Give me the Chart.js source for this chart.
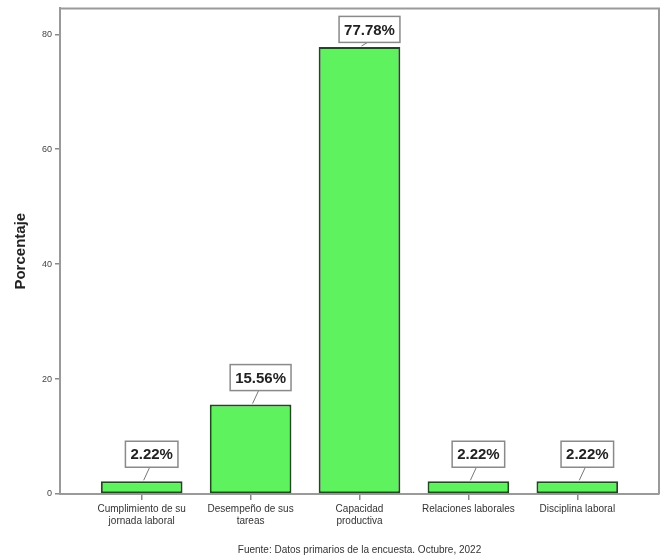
<!DOCTYPE html>
<html>
<head>
<meta charset="utf-8">
<script src="https://cdn.jsdelivr.net/npm/chart.js@4"></script>
<style>
html,body{margin:0;padding:0;background:#fff;}
#wrap{width:666px;height:560px;}
</style>
</head>
<body>
<div id="wrap"><canvas id="c" width="666" height="560"></canvas></div>
<script>
const categories = [
  ["Cumplimiento de su", "jornada laboral"],
  ["Desempeño de sus", "tareas"],
  ["Capacidad", "productiva"],
  ["Relaciones laborales"],
  ["Disciplina laboral"]
];
const percentages = [2.22, 15.56, 77.78, 2.22, 2.22];
const percentLabels = ["2.22%", "15.56%", "77.78%", "2.22%", "2.22%"];
const yTicks = [0, 20, 40, 60, 80];
const yTitle = "Porcentaje";
const sourceNote = "Fuente: Datos primarios de la encuesta. Octubre, 2022";

const points = percentages.map((v, i) => ({ x: i, y: v }));

const framePlugin = {
  id: 'frame',
  beforeDatasetsDraw(chart) {
    const { ctx, chartArea: a } = chart;
    ctx.save();
    ctx.strokeStyle = '#9a9a9a';
    ctx.lineWidth = 2;
    ctx.beginPath();
    ctx.moveTo(a.left, a.top);
    ctx.lineTo(a.right, a.top);
    ctx.lineTo(a.right, a.bottom);
    ctx.stroke();
    ctx.restore();
  }
};

const labelPlugin = {
  id: 'boxLabels',
  afterDatasetsDraw(chart) {
    const { ctx, chartArea: a } = chart;
    const meta = chart.getDatasetMeta(0);
    ctx.save();
    ctx.font = 'bold 15px "Liberation Sans", Arial, sans-serif';
    ctx.textAlign = 'center';
    ctx.textBaseline = 'middle';
    meta.data.forEach((bar, i) => {
      const txt = percentLabels[i];
      const w = ctx.measureText(txt).width + 10;
      const h = 26;
      const gap = Math.min(14, bar.y - a.top - 8 - h);
      const cx = bar.x + 10;
      const bottom = bar.y - gap;
      const top = bottom - h;
      ctx.strokeStyle = '#777';
      ctx.lineWidth = 1;
      ctx.beginPath();
      ctx.moveTo(cx - 2, bottom);
      ctx.lineTo(bar.x + 2, bar.y - 1);
      ctx.stroke();
      ctx.fillStyle = '#ffffff';
      ctx.fillRect(cx - w / 2, top, w, h);
      ctx.strokeStyle = '#8a8a8a';
      ctx.lineWidth = 1.5;
      ctx.strokeRect(cx - w / 2, top, w, h);
      ctx.fillStyle = '#222';
      ctx.fillText(txt, cx, top + h / 2 + 1);
    });
    ctx.restore();
  }
};

new Chart(document.getElementById('c'), {
  type: 'bar',
  data: {
    datasets: [{
      data: points,
      backgroundColor: '#5ef35e',
      borderColor: '#1f4a1f',
      borderWidth: 2,
      borderSkipped: false,
      barPercentage: 0.75,
      categoryPercentage: 1.0
    }]
  },
  options: {
    responsive: false,
    animation: false,
    devicePixelRatio: 1,
    layout: { padding: { top: 8, right: 7, left: 0, bottom: 0 } },
    plugins: {
      legend: { display: false },
      tooltip: { enabled: false }
    },
    scales: {
      x: {
        type: 'linear',
        min: -0.75,
        max: 4.75,
        offset: false,
        afterBuildTicks(scale) {
          scale.ticks = categories.map((_, i) => ({ value: i }));
        },
        afterFit(scale) { scale.height = 66; },
        ticks: {
          autoSkip: false,
          maxRotation: 0,
          padding: 3,
          color: '#333',
          font: { family: '"Liberation Sans", Arial, sans-serif', size: 10 },
          callback(v) { return categories[v]; }
        },
        grid: {
          offset: false,
          drawOnChartArea: false,
          drawTicks: true,
          tickLength: 6,
          color: '#8a8a8a',
          lineWidth: 1.5
        },
        border: { display: true, color: '#9a9a9a', width: 2 },
        title: {
          display: true,
          text: sourceNote,
          color: '#333',
          font: { family: '"Liberation Sans", Arial, sans-serif', size: 10 },
          padding: { top: 4, bottom: 4 }
        }
      },
      y: {
        min: 0,
        max: 84.5,
        afterBuildTicks(scale) {
          scale.ticks = yTicks.map(v => ({ value: v }));
        },
        afterFit(scale) { scale.width = 60; },
        ticks: {
          color: '#444',
          padding: 3,
          font: { family: '"Liberation Sans", Arial, sans-serif', size: 9 }
        },
        grid: {
          drawOnChartArea: false,
          drawTicks: true,
          tickLength: 5,
          color: '#8a8a8a',
          lineWidth: 1.5
        },
        border: { display: true, color: '#9a9a9a', width: 2 },
        title: {
          display: true,
          text: yTitle,
          color: '#222',
          font: { family: '"Liberation Sans", Arial, sans-serif', size: 15, weight: 'bold' },
          padding: { top: 12, bottom: 4 }
        }
      }
    }
  },
  plugins: [framePlugin, labelPlugin]
});
</script>
</body>
</html>
